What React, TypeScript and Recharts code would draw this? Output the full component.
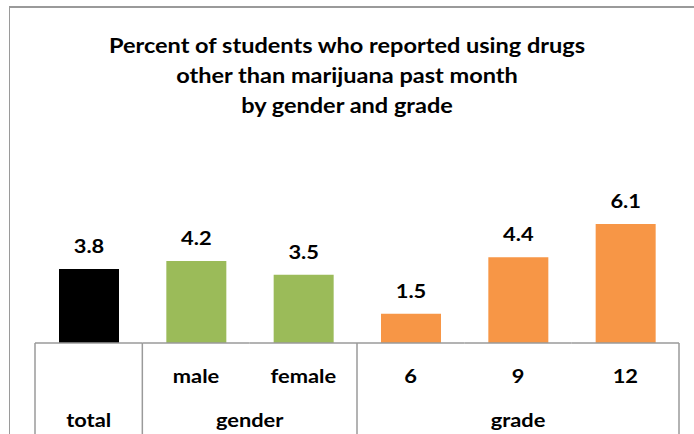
import { BarChart, Bar, XAxis, YAxis, Cell, LabelList } from "recharts";

const categories = ["total", "male", "female", "6", "9", "12"];
const tickLabels = ["", "male", "female", "6", "9", "12"];
const groupLabels = ["total", "gender", "", "", "grade", ""];
const values = [3.8, 4.2, 3.5, 1.5, 4.4, 6.1];
const colors = ["#000000", "#9BBB59", "#9BBB59", "#F79646", "#F79646", "#F79646"];
const titleLines = [
  "Percent of students who reported using drugs",
  "other than marijuana past month",
  "by gender and grade",
];

const data = categories.map((c, i) => ({ name: c, value: values[i], fill: colors[i] }));

const FONT = "Lato, 'Open Sans', sans-serif";
const LINE = "#9a9a9a";
const STRETCH = 1.15;
const HALF = 644 / 12; // half of a category band

// the source font is wider than Lato, so stretch text a little around its centre
function WideText({ x, y, children }: any) {
  return (
    <g transform={`translate(${x},${y}) scale(${STRETCH},1)`}>
      <text x={0} y={0} textAnchor="middle" fontFamily={FONT} fontWeight={700} fontSize={19} fill="#000">
        {children}
      </text>
    </g>
  );
}

// tick draws the axis segment, sub-label, group label and the table-like separators
function GroupTick(props: any) {
  const { x, y, index } = props;
  const top = y - 8;
  const sepAt = [0, 1, 3].includes(index);
  const groupX = index === 1 ? x + HALF : x;
  return (
    <g>
      <line x1={x - HALF} x2={x + HALF} y1={top} y2={top} stroke={LINE} strokeWidth={1.5} />
      {sepAt && <line x1={x - HALF} x2={x - HALF} y1={top} y2={top + 100} stroke={LINE} strokeWidth={1.5} />}
      {index === 5 && <line x1={x + HALF} x2={x + HALF} y1={top} y2={top + 100} stroke={LINE} strokeWidth={1.5} />}
      <WideText x={x} y={top + 40}>{tickLabels[index]}</WideText>
      <WideText x={groupX} y={top + 84}>{groupLabels[index]}</WideText>
    </g>
  );
}

function ValueLabel(props: any) {
  const { x, y, width, value } = props;
  return <WideText x={x + width / 2} y={y - 16}>{Number(value).toFixed(1)}</WideText>;
}

export default function App() {
  return (
    <div style={{ position: "absolute", left: 0, top: 0, width: 694, height: 434, background: "#fff", overflow: "hidden" }}>
      {/* chart frame, only left and top edges visible */}
      <div
        style={{
          position: "absolute",
          left: 9,
          top: 6,
          width: 720,
          height: 460,
          borderLeft: `1.5px solid ${LINE}`,
          borderTop: `2px solid ${LINE}`,
        }}
      />
      <div
        style={{
          position: "absolute",
          left: 0,
          top: 30,
          width: 694,
          textAlign: "center",
          fontFamily: FONT,
          fontWeight: 700,
          fontSize: 21,
          lineHeight: "30px",
          color: "#000",
          transform: "scaleX(1.12)",
          transformOrigin: "347px 0",
        }}
      >
        {titleLines.map((t) => (
          <div key={t}>{t}</div>
        ))}
      </div>
      <div style={{ position: "absolute", left: 0, top: 0 }}>
        <BarChart width={694} height={434} data={data} margin={{ top: 187, right: 15, bottom: 0, left: 35 }} barSize={60}>
          <YAxis hide domain={[0, 8]} />
          <XAxis dataKey="name" height={91} interval={0} tickLine={false} axisLine={false} tick={<GroupTick />} />
          <Bar dataKey="value" isAnimationActive={false}>
            {data.map((d, i) => (
              <Cell key={i} fill={d.fill} />
            ))}
            <LabelList dataKey="value" content={<ValueLabel />} />
          </Bar>
        </BarChart>
      </div>
    </div>
  );
}
